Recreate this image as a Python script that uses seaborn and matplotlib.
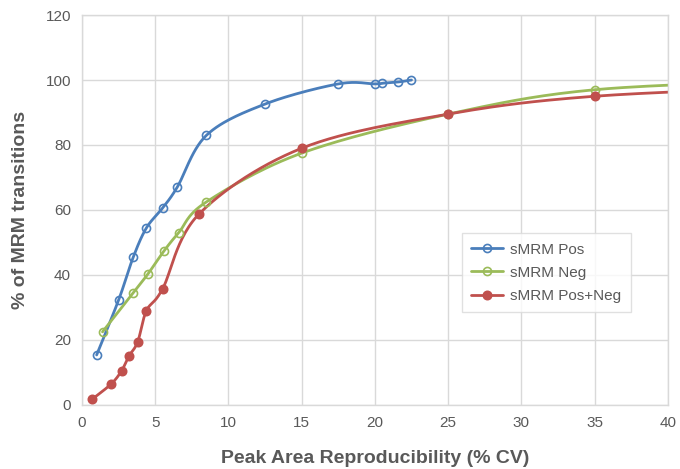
import numpy as np
import pandas as pd
import matplotlib
matplotlib.use("Agg")
import matplotlib.pyplot as plt
from matplotlib.lines import Line2D
import seaborn as sns

# =========================
# DATA
# =========================
pos_cv = [1.0, 2.5, 3.5, 4.4, 5.5, 6.5, 8.5, 12.5, 17.5, 20.0, 20.5, 21.6, 22.5]
pos_pct = [15.4, 32.3, 45.5, 54.5, 60.6, 67.0, 83.0, 92.6, 98.8, 98.8, 99.0, 99.4, 100.0]

neg_cv = [1.4, 3.5, 4.5, 5.6, 6.6, 8.5, 15.0, 25.0, 35.0, 50.0]
neg_pct = [22.5, 34.5, 40.3, 47.4, 53.0, 62.5, 77.5, 89.5, 97.0, 100.0]

both_cv = [0.7, 2.0, 2.7, 3.2, 3.8, 4.4, 5.5, 8.0, 15.0, 25.0, 35.0, 50.0]
both_pct = [1.8, 6.5, 10.5, 15.0, 19.4, 29.0, 35.7, 58.8, 79.0, 89.5, 95.0, 98.0]

series_names = ["sMRM Pos", "sMRM Neg", "sMRM Pos+Neg"]
colors = ["#4A7EBB", "#9BBB59", "#C0504D"]
filled = [False, False, True]

GRAY = "#595959"


def smooth(xs, ys, n=30):
    # Catmull-Rom curve, similar to the spreadsheet "smoothed line" option
    p = np.column_stack([xs, ys]).astype(float)
    p = np.vstack([p[0], p, p[-1]])
    out = []
    for i in range(1, len(p) - 2):
        p0, p1, p2, p3 = p[i - 1], p[i], p[i + 1], p[i + 2]
        t = np.linspace(0, 1, n)[:, None]
        seg = 0.5 * ((2 * p1) + (-p0 + p2) * t + (2 * p0 - 5 * p1 + 4 * p2 - p3) * t**2
                     + (-p0 + 3 * p1 - 3 * p2 + p3) * t**3)
        out.append(seg)
    out = np.vstack(out)
    return out[:, 0], out[:, 1]


sns.set_theme(style="whitegrid")
plt.rcParams["font.family"] = ["Liberation Sans Narrow", "Liberation Sans", "DejaVu Sans"]

fig = plt.figure(figsize=(6.8, 4.69), dpi=100)
ax = fig.add_axes([0.1206, 0.1365, 0.8614, 0.8315])

handles = []
for xs, ys, name, col, fill in zip([pos_cv, neg_cv, both_cv], [pos_pct, neg_pct, both_pct],
                                   series_names, colors, filled):
    sx, sy = smooth(xs, ys)
    curve = pd.DataFrame({"cv": sx, "pct": sy})
    sns.lineplot(data=curve, x="cv", y="pct", sort=False, estimator=None,
                 color=col, lw=2.0, ax=ax)
    ax.plot(xs, ys, ls="none", marker="o", ms=6 if fill else 5.8,
            mfc=col if fill else "none", mec=col, mew=1.2, zorder=3)
    handles.append(Line2D([], [], color=col, lw=2.0, marker="o", ms=6 if fill else 5.8,
                          mfc=col if fill else "none", mec=col, mew=1.2, label=name))

ax.set_xlim(0, 40)
ax.set_ylim(0, 120)
ax.set_xticks(range(0, 41, 5))
ax.set_yticks(range(0, 121, 20))
ax.grid(True, color="#D9D9D9", lw=1)
for s in ax.spines.values():
    s.set_color("#D9D9D9")
    s.set_linewidth(1)
ax.tick_params(colors=GRAY, labelsize=11, length=0, pad=8)

ax.set_xlabel("Peak Area Reproducibility (% CV)", fontsize=14, fontweight="bold", color=GRAY, labelpad=14)
ax.set_ylabel("% of MRM transitions", fontsize=14, fontweight="bold", color=GRAY, labelpad=12)

leg = ax.legend(handles=handles, loc="upper left", bbox_to_anchor=(0.648, 0.44),
                frameon=True, fancybox=False, fontsize=11, labelcolor=GRAY,
                handlelength=2.1, handletextpad=0.5, borderpad=0.6, labelspacing=0.6,
                borderaxespad=0)
leg.get_frame().set_edgecolor("#D9D9D9")
leg.get_frame().set_linewidth(1)

fig.savefig("out.png", dpi=100)
